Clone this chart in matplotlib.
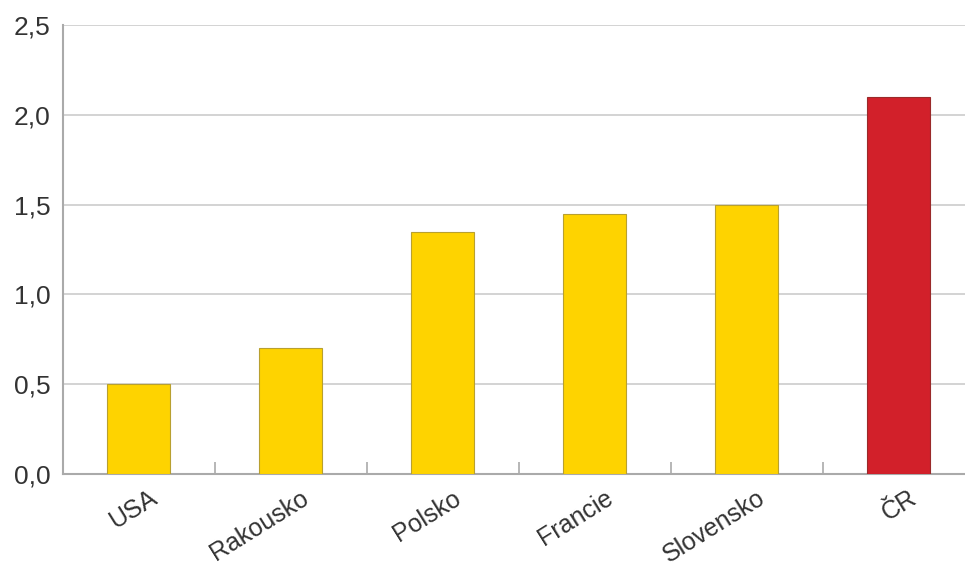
import matplotlib.pyplot as plt
import matplotlib.transforms as mtransforms
import numpy as np

countries = ['USA', 'Rakousko', 'Polsko', 'Francie', 'Slovensko', 'ČR']
values = [0.5, 0.7, 1.35, 1.45, 1.5, 2.1]
colors = ['#FED300'] * 5 + ['#D2202A']
edges = ['#B8A030'] * 5 + ['#9A2A2A']

plt.rcParams['font.family'] = ['Liberation Sans', 'DejaVu Sans']

fig = plt.figure(figsize=(9.65, 5.72), dpi=100)
ax = fig.add_axes([63 / 965, 1 - 474 / 572, 911.5 / 965, 449 / 572])

x = np.arange(len(countries))
ax.bar(x, values, width=0.415, color=colors, edgecolor=edges, linewidth=0.8, zorder=3)

ax.set_xlim(-0.5, 5.5)
ax.set_ylim(0, 2.5)
ax.set_yticks(np.arange(0, 2.51, 0.5))
ax.set_yticklabels([f'{v:.1f}'.replace('.', ',') for v in np.arange(0, 2.51, 0.5)], fontsize=19, color='#333333')
ax.tick_params(axis='y', length=0, pad=9)
ax.yaxis.grid(True, color='#CCCCCC', linewidth=1.2, zorder=0)

ax.set_xticks(x)
ax.set_xticklabels(countries, rotation=32, ha='right', va='center', rotation_mode='anchor', fontsize=18, color='#333333')
ax.tick_params(axis='x', length=0, pad=16)
offset = mtransforms.ScaledTranslation(16 / 100, 0, fig.dpi_scale_trans)
for lab in ax.get_xticklabels():
    lab.set_transform(lab.get_transform() + offset)
ax.set_xticks(x[:-1] + 0.5, minor=True)
ax.tick_params(axis='x', which='minor', direction='in', length=9, color='#AAAAAA', width=1.2)

for s in ['right', 'top']:
    ax.spines[s].set_visible(False)
for s in ['left', 'bottom']:
    ax.spines[s].set_color('#AAAAAA')
    ax.spines[s].set_linewidth(1.5)
ax.set_axisbelow(True)

fig.savefig('out.png', dpi=100)
